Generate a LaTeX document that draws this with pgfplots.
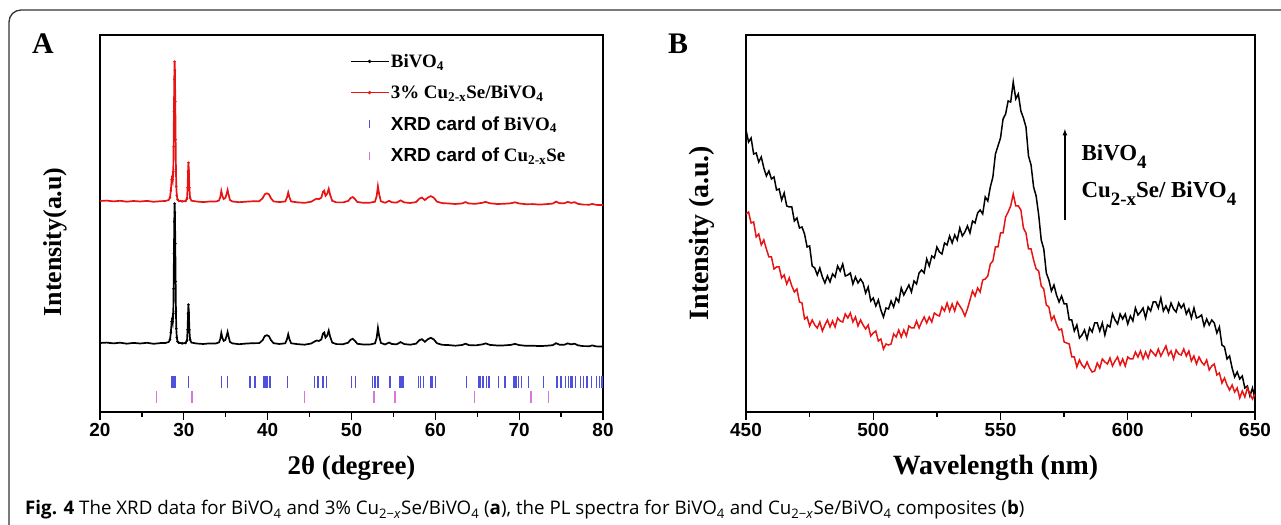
\documentclass[border=0pt]{standalone}
\usepackage{fontspec}
\setmainfont{Liberation Serif}
\newfontfamily\arialf{Liberation Sans}
\newfontfamily\capf{Open Sans}
\usepackage{pgfplots}
\pgfplotsset{compat=1.18}
\usepackage{pgfplotstable}
\definecolor{cardblue}{RGB}{80,80,220}
\definecolor{cardpink}{RGB}{215,120,215}
\definecolor{pred}{RGB}{232,20,20}
\newcommand{\bsub}[1]{\raisebox{-0.35em}{\fontsize{19}{19}\selectfont #1}}

\pgfplotstableread{
x b r
20.0 69.0 211.0
20.8 69.4 211.4
21.6 68.6 210.6
22.4 69.3 211.2
23.2 68.3 210.3
24.0 69.1 211.0
24.8 68.5 210.5
25.6 69.2 211.1
26.4 68.2 210.2
27.2 68.9 210.8
27.8 69.0 211.0
28.2 70.0 212.0
28.35 72.4 214.4
28.45 79.4 221.4
28.55 90.4 232.4
28.62 93.4 235.4
28.68 90.4 232.4
28.74 98.4 240.4
28.78 123.4 265.4
28.82 158.4 300.4
28.86 190.4 332.4
28.90 208.4 350.4
28.94 199.4 341.4
28.98 168.4 310.4
29.02 130.4 272.4
29.06 100.4 242.4
29.10 83.4 225.4
29.16 74.4 216.4
29.25 70.4 212.4
29.4 69.2 211.2
29.8 68.7 210.7
30.2 69.0 210.9
30.38 71.4 213.3
30.45 82.4 224.3
30.50 98.4 240.3
30.55 107.4 249.3
30.60 99.4 241.3
30.66 82.4 224.3
30.74 72.4 214.3
30.9 69.4 211.3
31.5 68.5 210.5
32.3 68.0 209.9
33.1 68.6 210.5
33.8 68.5 210.4
34.2 69.6 211.5
34.35 73.1 215.0
34.47 79.1 221.0
34.6 74.1 216.0
34.75 71.1 213.0
34.95 72.1 214.0
35.1 76.1 218.0
35.22 80.1 222.0
35.35 75.1 217.0
35.5 70.1 212.0
35.8 68.6 210.5
36.6 67.8 209.8
37.4 68.4 210.3
38.2 68.8 210.7
39.0 68.9 210.8
39.4 71.8 213.7
39.65 75.8 217.7
39.9 76.8 218.7
40.15 75.8 217.7
40.4 71.8 213.6
40.7 68.8 210.6
41.4 68.0 209.9
42.1 68.7 210.5
42.3 72.7 214.5
42.45 77.7 219.5
42.6 72.7 214.5
42.8 68.7 210.5
43.6 67.8 209.6
44.4 67.3 209.1
45.2 68.5 210.3
45.6 70.5 212.3
45.85 71.5 213.3
46.1 71.0 212.8
46.4 72.5 214.3
46.6 78.5 220.3
46.75 79.5 221.3
46.9 74.4 216.2
47.1 76.4 218.2
47.28 81.4 223.2
47.45 75.4 217.2
47.7 69.4 211.2
48.2 67.9 209.6
49.0 67.8 209.6
49.6 69.3 211.0
49.9 72.3 214.0
50.15 73.2 215.0
50.4 71.2 213.0
50.7 68.2 210.0
51.4 67.5 209.2
52.2 67.5 209.3
52.8 68.6 210.3
53.0 74.1 215.8
53.15 84.1 225.8
53.3 76.1 217.8
53.5 69.1 210.8
54.0 67.5 209.2
54.5 69.5 211.2
54.8 68.0 209.7
55.4 67.7 209.4
55.85 69.9 211.6
56.3 67.9 209.6
57.0 67.3 209.0
57.7 68.3 209.9
58.1 71.8 213.4
58.4 72.8 214.4
58.75 70.2 211.9
59.1 72.7 214.4
59.45 74.2 215.9
59.8 72.7 214.4
60.2 68.7 210.3
60.8 67.2 208.9
61.6 66.9 208.5
62.4 66.3 208.0
63.2 67.0 208.6
63.6 68.3 209.9
64.0 66.9 208.5
64.8 66.6 208.2
65.6 67.6 209.2
66.0 68.6 210.1
66.5 67.1 208.7
67.4 66.5 208.0
68.2 66.6 208.2
69.0 67.1 208.7
69.5 68.1 209.7
70.0 66.9 208.5
70.8 66.2 207.8
71.6 66.3 207.9
72.4 65.9 207.4
73.2 66.2 207.8
74.0 66.8 208.4
74.4 68.8 210.4
74.8 67.3 208.8
75.4 67.3 208.8
75.8 68.6 210.1
76.2 67.6 209.1
76.6 68.3 209.8
77.0 66.7 208.2
77.6 65.9 207.4
78.4 65.8 207.3
78.7 66.6 208.1
79.2 65.6 207.1
80.0 65.5 207.0
}\xrd

\pgfplotstableread{
x y
28.6 30
28.83 30
28.95 30
30.54 30
34.51 30
35.23 30
37.9 30
38.5 30
39.5 30
39.7 30
39.9 30
40.3 30
42.4 30
45.6 30
46.0 30
46.6 30
47.0 30
50.0 30
50.5 30
52.5 30
52.8 30
53.1 30
53.25 30
54.6 30
55.8 30
56.0 30
56.2 30
58.0 30
58.25 30
58.6 30
59.4 30
59.6 30
60.0 30
63.7 30
65.2 30
65.4 30
65.7 30
66.1 30
66.4 30
67.5 30
68.3 30
69.3 30
69.45 30
69.6 30
69.9 30
70.3 30
71.1 30
72.9 30
74.5 30
75.0 30
75.5 30
75.9 30
76.1 30
76.3 30
76.7 30
77.3 30
77.7 30
78.1 30
78.6 30
79.2 30
79.6 30
79.9 30
}\cardbv

\pgfplotstableread{
x y
26.76 15
30.97 15
44.41 15
52.68 15
55.19 15
64.65 15
71.41 15
73.48 15
}\cardcu

\pgfplotstableread{
nm b r
450 282 198
451 270 200
452 274 189
453 258 190
454 259 175
455 250 178
456 255 167
457 244 172
458 236 163
459 241 155
460 233 155
461 235 143
462 222 145
463 223 145
464 212 134
465 219 137
466 206 128
467 205 134
468 205 126
469 191 120
470 194 123
471 184 110
472 185 109
473 178 93
474 165 95
475 166 86
476 146 92
477 144 87
478 137 84
479 144 90
480 135 81
481 129 87
482 136 92
483 130 85
484 138 91
485 135 85
486 146 94
487 141 91
488 148 90
489 136 98
490 137 94
491 139 99
492 128 90
493 135 95
494 129 86
495 133 92
496 129 87
497 119 83
498 125 87
499 111 76
500 114 79
501 106 81
502 112 71
503 102 73
504 95 63
505 104 68
506 103 67
507 111 68
508 105 78
509 114 75
510 110 82
511 124 75
512 117 82
513 122 76
514 127 86
515 120 84
516 131 84
517 128 91
518 139 84
519 142 90
520 139 95
521 153 89
522 146 95
523 156 90
524 154 99
525 165 97
526 160 96
527 158 105
528 169 101
529 167 109
530 176 101
531 169 108
532 177 101
533 172 110
534 184 106
535 176 102
536 180 96
537 186 103
538 179 112
539 191 121
540 189 116
541 199 124
542 202 120
543 198 132
544 215 133
545 211 136
546 225 148
547 235 151
548 258 165
549 266 165
550 274 179
551 293 179
552 298 195
553 311 200
554 310 206
555 330 218
556 313 206
557 318 206
558 301 202
559 294 184
560 285 179
561 256 163
562 247 163
563 225 152
564 216 143
565 197 141
566 172 126
567 163 123
568 139 107
569 132 105
570 121 92
571 127 96
572 117 88
573 110 82
574 116 83
575 108 70
576 108 69
577 92 68
578 92 55
579 81 55
580 87 45
581 74 52
582 77 47
583 82 44
584 73 50
585 84 44
586 80 40
587 89 41
588 89 49
589 81 44
590 89 53
591 77 50
592 87 48
593 85 54
594 98 46
595 92 51
596 88 55
597 98 47
598 93 53
599 98 46
600 88 55
601 96 53
602 91 53
603 104 60
604 97 55
605 100 61
606 104 53
607 94 60
608 105 54
609 101 62
610 110 59
611 110 56
612 104 63
613 114 56
614 101 61
615 106 66
616 100 57
617 109 61
618 103 53
619 100 62
620 109 58
621 104 57
622 108 63
623 98 56
624 103 61
625 94 51
626 104 56
627 94 48
628 95 55
629 97 50
630 86 47
631 93 52
632 87 42
633 92 46
634 89 48
635 79 37
636 85 39
637 67 29
638 65 34
639 53 27
640 56 22
641 44 27
642 35 20
643 40 24
644 33 14
645 36 21
646 24 15
647 26 24
648 16 18
649 24 13
650 13 18
}\pl

\pgfplotsset{
  panel/.style={
    scale only axis, anchor=south west, height=377bp,
    ymin=0, ymax=377, ytick=\empty,
    xtick pos=left, tick align=outside, minor x tick num=1,
    major tick length=8bp, minor tick length=5bp,
    axis line style={line width=1.5bp},
    tick style={line width=1.3bp, black},
    /pgf/number format/assume math mode=true,
    xticklabel style={font=\arialf\bfseries\fontsize{19}{19}\selectfont},
  }
}

\begin{document}
\begin{tikzpicture}[x=1bp,y=1bp]
\useasboundingbox (0,0) rectangle (1281,525);
\draw[line width=1.3bp, black!80, rounded corners=12bp] (9,-30) -- (9,515) -- (1310,515);
\node[font=\bfseries\fontsize{30}{30}\selectfont] at (43,481) {A};
\node[font=\bfseries\fontsize{30}{30}\selectfont] at (678,481) {B};

\begin{axis}[panel, at={(100bp,113bp)}, width=503bp,
  xmin=20, xmax=80, xtick={20,30,...,80},
  xlabel={2θ (degree)}, ylabel={Intensity(a.u)},
  every axis x label/.style={at={(axis description cs:0.5,-0.1485)}, anchor=center, font=\bfseries\fontsize{27}{27}\selectfont},
  every axis y label/.style={at={(axis description cs:-0.089,0.451)}, anchor=center, rotate=90, font=\bfseries\fontsize{26}{26}\selectfont},
  legend style={draw=none, fill=none, at={(rel axis cs:0.497,0.955)}, anchor=north west,
    inner sep=0pt, row sep=12.5bp, font=\bfseries\fontsize{19}{19}\selectfont},
  legend cell align=left]
\addplot[pred, line width=1.7bp, forget plot] table[x=x,y=r]{\xrd};
\addplot[pred, only marks, mark=*, mark size=1.1bp, forget plot, restrict x to domain=28.3:30.8] table[x=x,y=r]{\xrd};
\addplot[black, line width=1.7bp, forget plot] table[x=x,y=b]{\xrd};
\addplot[black, only marks, mark=*, mark size=1.1bp, forget plot, restrict x to domain=28.3:30.8] table[x=x,y=b]{\xrd};
\addplot[cardblue, only marks, mark=|, mark size=6bp, mark options={line width=1.4bp}, forget plot] table[x=x,y=y]{\cardbv};
\addplot[cardpink, only marks, mark=|, mark size=6bp, mark options={line width=1.1bp}, forget plot] table[x=x,y=y]{\cardcu};
\addlegendimage{legend image code/.code={\draw[black, line width=0.7bp] (0bp,0bp) -- (38bp,0bp); \fill[black] (19bp,0bp) circle (1.5bp);}}
\addlegendentry{BiVO\textsubscript{4}}
\addlegendimage{legend image code/.code={\draw[pred, line width=0.7bp] (0bp,0bp) -- (38bp,0bp); \fill[pred] (19bp,0bp) circle (1.5bp);}}
\addlegendentry{3\% Cu\textsubscript{2-x}Se/BiVO\textsubscript{4}}
\addlegendimage{legend image code/.code={\draw[draw=none] (0bp,0bp) -- (38bp,0bp); \draw[draw=cardblue, line width=1.5bp] (19bp,-4bp) -- (19bp,4bp);}}
\addlegendentry{{\arialf XRD card of} BiVO\textsubscript{4}}
\addlegendimage{legend image code/.code={\draw[draw=none] (0bp,0bp) -- (38bp,0bp); \draw[draw=cardpink, line width=1.5bp] (19bp,-4bp) -- (19bp,4bp);}}
\addlegendentry{{\arialf XRD card of} Cu\textsubscript{2-x}Se}
\end{axis}

\begin{axis}[panel, at={(746bp,113bp)}, width=509bp,
  xmin=450, xmax=650, xtick={450,500,...,650},
  xlabel={Wavelength (nm)}, ylabel={Intensity (a.u.)},
  every axis x label/.style={at={(axis description cs:0.49,-0.1485)}, anchor=center, font=\bfseries\fontsize{28}{28}\selectfont},
  every axis y label/.style={at={(axis description cs:-0.086,0.475)}, anchor=center, rotate=90, font=\bfseries\fontsize{28}{28}\selectfont}]
\addplot[black, line width=1.5bp] table[x=nm,y=b]{\pl};
\addplot[pred, line width=1.5bp] table[x=nm,y=r]{\pl};
\draw[-latex, line width=1.2bp] (axis cs:575.3,192) -- (axis cs:575.3,283);
\node[anchor=west, font=\bfseries\fontsize{23}{23}\selectfont] at (axis cs:580.5,255) {BiVO\bsub{4}};
\node[anchor=west, font=\bfseries\fontsize{23}{23}\selectfont] at (axis cs:580.5,218) {Cu\bsub{2-x}Se/ BiVO\bsub{4}};
\end{axis}

\node[anchor=base west, inner sep=0pt, font=\capf\fontsize{18.8}{18.8}\selectfont] at (25,10)
 {\textbf{Fig. 4} The XRD data for BiVO\textsubscript{4} and 3\% Cu\textsubscript{2−\textit{x}}Se/BiVO\textsubscript{4} (\textbf{a}), the PL spectra for BiVO\textsubscript{4} and Cu\textsubscript{2−\textit{x}}Se/BiVO\textsubscript{4} composites (\textbf{b})};
\end{tikzpicture}
\end{document}
